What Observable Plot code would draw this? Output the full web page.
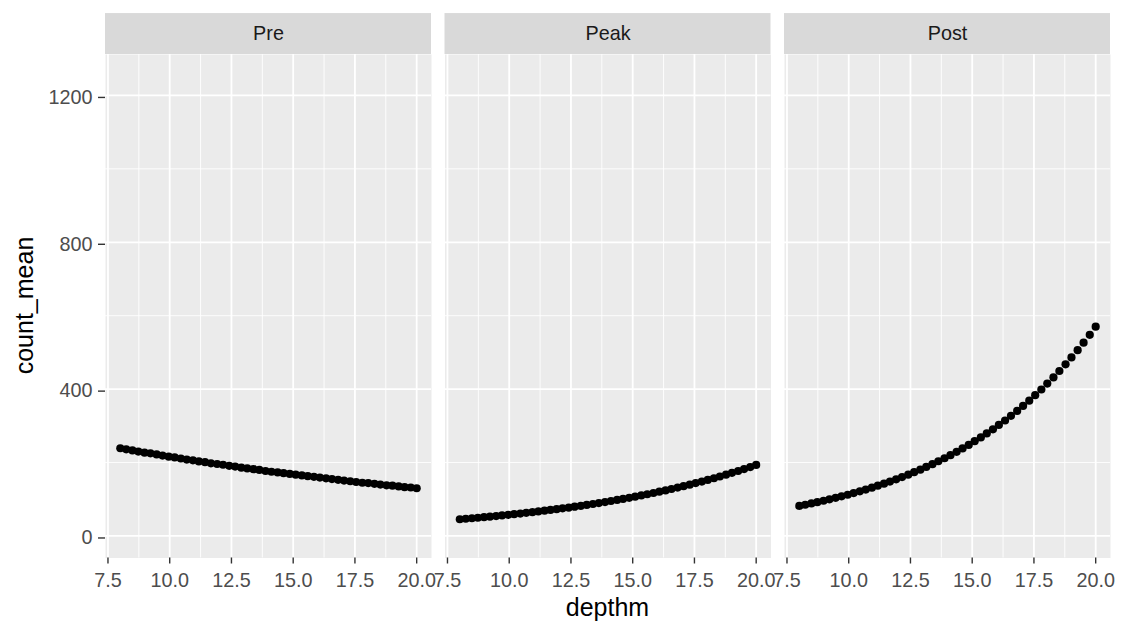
<!DOCTYPE html>
<html><head><meta charset="utf-8">
<script src="https://cdn.jsdelivr.net/npm/d3@7"></script>
<script src="https://cdn.jsdelivr.net/npm/@observablehq/plot@0.6"></script>
<style>body{margin:0;background:#fff;} svg{display:block;}</style>
</head><body><div id="chart"></div>
<script>
const periods = ["Pre", "Peak", "Post"];
const depthm = [8.00, 8.24, 8.49, 8.73, 8.98, 9.22, 9.47, 9.71, 9.96, 10.20,
  10.45, 10.69, 10.94, 11.18, 11.43, 11.67, 11.92, 12.16, 12.41, 12.65,
  12.90, 13.14, 13.39, 13.63, 13.88, 14.12, 14.37, 14.61, 14.86, 15.10,
  15.35, 15.59, 15.84, 16.08, 16.33, 16.57, 16.82, 17.06, 17.31, 17.55,
  17.80, 18.04, 18.29, 18.53, 18.78, 19.02, 19.27, 19.51, 19.76, 20.00];
const preMean = [239, 236, 233, 230, 227, 225, 222, 219, 216, 214,
  211, 208, 206, 203, 201, 198, 196, 194, 191, 189,
  186, 184, 182, 180, 177, 175, 173, 171, 169, 167,
  165, 163, 161, 159, 157, 155, 153, 151, 149, 147,
  145, 144, 142, 140, 138, 137, 135, 133, 132, 130];
const peakMean = [45.5, 46.9, 48.3, 49.7, 51.2, 52.7, 54.3, 55.9, 57.6, 59.4,
  61.1, 63.0, 64.8, 66.8, 68.8, 70.9, 73.0, 75.2, 77.4, 79.7,
  82.1, 84.6, 87.1, 89.7, 92.4, 95.2, 98.1, 101.0, 104.0, 107.1,
  110.4, 113.7, 117.1, 120.6, 124.2, 127.9, 131.8, 135.7, 139.8, 144.0,
  148.3, 152.7, 157.3, 162.0, 166.9, 171.9, 177.0, 182.3, 187.8, 193.4];
const postMean = [81.8, 85.1, 88.6, 92.1, 95.9, 99.7, 103.8, 107.9, 112.3, 116.8,
  121.6, 126.5, 131.6, 136.9, 142.4, 148.2, 154.2, 160.4, 166.9, 173.7,
  180.7, 188.0, 195.6, 203.5, 211.7, 220.2, 229.1, 238.4, 248.0, 258.1,
  268.5, 279.3, 290.6, 302.4, 314.6, 327.3, 340.5, 354.3, 368.6, 383.5,
  399.0, 415.2, 431.9, 449.4, 467.6, 486.4, 506.1, 526.6, 547.8, 570.0];
const xTicks = [7.5, 10, 12.5, 15, 17.5, 20];
const xMinor = [8.75, 11.25, 13.75, 16.25, 18.75];
const yTicks = [0, 400, 800, 1200];
const yMinor = [200, 600, 1000];

const rows = [];
[preMean, peakMean, postMean].forEach((arr, k) =>
  arr.forEach((v, i) => rows.push({period: periods[k], depthm: depthm[i], count_mean: v})));

// layout
const xDomain = [7.4, 20.6];
const yDomain = [-60, 1311.5];
const stripTop = 1423;
const FONT = "'Liberation Sans', Arial, sans-serif";
const tickFont = 19.8;

const plot = Plot.plot({
  width: 1124, height: 635,
  marginLeft: 105, marginRight: 14, marginTop: 54, marginBottom: 77.5,
  style: {fontFamily: FONT, background: "#fff"},
  x: {domain: xDomain},
  y: {domain: yDomain},
  fx: {domain: periods, paddingInner: 0.0398, paddingOuter: 0, round: false, axis: null},
  marks: [
    Plot.frame({fill: "#EBEBEB"}),
    Plot.gridX(xMinor, {stroke: "#fff", strokeOpacity: 1, strokeWidth: 0.9}),
    Plot.gridY(yMinor, {stroke: "#fff", strokeOpacity: 1, strokeWidth: 0.9}),
    Plot.gridX(xTicks, {stroke: "#fff", strokeOpacity: 1, strokeWidth: 1.8}),
    Plot.gridY(yTicks, {stroke: "#fff", strokeOpacity: 1, strokeWidth: 1.8}),
    Plot.dot(rows, {x: "depthm", y: "count_mean", fx: "period", r: 4.1, fill: "#000"}),
    Plot.axisX({ticks: xTicks, tickFormat: d3.format(".1f"), tickSize: 6, tickPadding: 9,
      fontSize: tickFont, stroke: "#333", fill: "#4D4D4D", strokeWidth: 1.4, label: null}),
    Plot.axisY({ticks: yTicks, tickFormat: d3.format("d"), tickSize: 7, tickPadding: 6, fontSize: tickFont,
      stroke: "#333", fill: "#4D4D4D", strokeWidth: 1.4, label: null, dy: 2}),
    Plot.rect(periods, {fx: d => d, x1: () => xDomain[0], x2: () => xDomain[1],
      y1: () => yDomain[1], y2: () => stripTop, fill: "#D9D9D9"}),
    Plot.text(periods, {fx: d => d, text: d => d, frameAnchor: "top", lineAnchor: "middle", dy: -20.5,
      fontSize: tickFont, fill: "#1A1A1A"})
  ]
});

const svg = d3.select(plot);
svg.append("text")
  .attr("transform", "translate(33,305.5) rotate(-90)")
  .attr("text-anchor", "middle").attr("font-size", 25).attr("fill", "#000")
  .attr("font-family", FONT).text("count_mean");
svg.append("text")
  .attr("x", 607.5).attr("y", 616)
  .attr("text-anchor", "middle").attr("font-size", 25).attr("fill", "#000")
  .attr("font-family", FONT).text("depthm");

document.getElementById("chart").appendChild(plot);
</script>
</body></html>
